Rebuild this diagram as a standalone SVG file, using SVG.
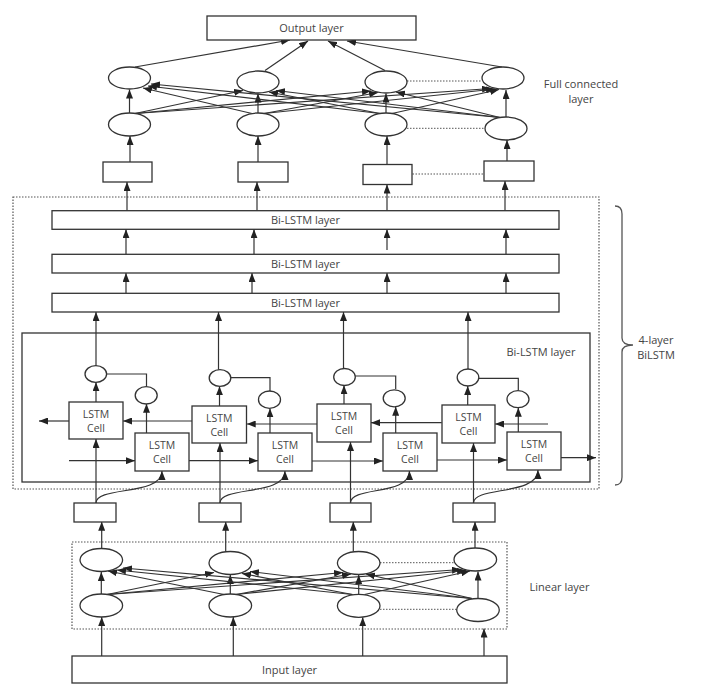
<svg xmlns="http://www.w3.org/2000/svg" width="710" height="699" viewBox="0 0 710 699">
<defs>
<marker id="ah" viewBox="0 0 9 7" refX="9" refY="3.5" markerWidth="9" markerHeight="7" markerUnits="userSpaceOnUse" orient="auto"><path d="M0,0 L9,3.5 L0,7 z" fill="#222"/></marker>
<style>
.box{fill:#fff;stroke:#333;stroke-width:1.3}
.frame{fill:none;stroke:#333;stroke-width:1.3}
.el{fill:#fff;stroke:#333;stroke-width:1.3}
.ln{fill:none;stroke:#333;stroke-width:1.2}
.ar{fill:none;stroke:#333;stroke-width:1.2;marker-end:url(#ah)}
.dot{fill:none;stroke:#555;stroke-width:1.2;stroke-dasharray:1.5 1.5}
.dl{fill:none;stroke:#555;stroke-width:1;stroke-dasharray:1.5 1.5}
text{font-family:"Open Sans","Noto Sans","DejaVu Sans",sans-serif;font-size:11px;fill:#444;text-anchor:middle}
.cell{font-size:10.5px}
</style>
</defs>
<rect width="710" height="699" fill="#fff"/>

<!-- frames -->
<g id="bilstm-frame"><rect class="dot" x="13" y="197" width="586" height="292"/></g>
<g id="linear-frame"><rect class="dot" x="72" y="542" width="435" height="87"/></g>
<g id="bilstm-4"><rect class="frame" x="22" y="333" width="568" height="149"/><text x="541" y="356">Bi-LSTM layer</text></g>

<!-- connectors -->
<g id="connectors">
 <!-- to output -->
 <line class="ar" x1="135" y1="67" x2="290" y2="40"/>
 <line class="ar" x1="265" y1="70.5" x2="308" y2="41"/>
 <line class="ar" x1="385" y1="70.5" x2="328" y2="41"/>
 <line class="ar" x1="502" y1="67" x2="347" y2="41"/>
 <!-- FC full connections -->
 <line class="ar" x1="129.5" y1="113" x2="129.5" y2="89.5"/>
 <line class="ar" x1="135" y1="113.5" x2="243" y2="90.5"/>
 <line class="ar" x1="135" y1="113.5" x2="371" y2="91"/>
 <line class="ar" x1="135" y1="113.5" x2="491" y2="88.5"/>
 <line class="ar" x1="252" y1="113.5" x2="143" y2="88"/>
 <line class="ar" x1="258" y1="113" x2="258" y2="93.5"/>
 <line class="ar" x1="264" y1="113.5" x2="378" y2="92.5"/>
 <line class="ar" x1="264" y1="113.5" x2="495" y2="89"/>
 <line class="ar" x1="380" y1="113.5" x2="148" y2="86"/>
 <line class="ar" x1="380" y1="113.5" x2="269" y2="92"/>
 <line class="ar" x1="386" y1="113" x2="386" y2="93.5"/>
 <line class="ar" x1="392" y1="113.5" x2="499" y2="89.5"/>
 <line class="ar" x1="500" y1="117.5" x2="151" y2="84"/>
 <line class="ar" x1="500" y1="117.5" x2="276" y2="90.5"/>
 <line class="ar" x1="500" y1="117.5" x2="396" y2="92"/>
 <line class="ar" x1="506" y1="117" x2="506" y2="90"/>
 <!-- rects to FC row2 -->
 <line class="ar" x1="130" y1="162" x2="130" y2="136"/>
 <line class="ar" x1="258" y1="162" x2="258" y2="136"/>
 <line class="ar" x1="387" y1="165" x2="387" y2="136"/>
 <line class="ar" x1="507" y1="161" x2="507" y2="140"/>
 <!-- Bi-LSTM layer1 to rects -->
 <line class="ar" x1="127" y1="210.7" x2="127" y2="182"/>
 <line class="ar" x1="257" y1="210.7" x2="257" y2="182"/>
 <line class="ar" x1="387" y1="210.7" x2="387" y2="184.5"/>
 <line class="ar" x1="505" y1="210.7" x2="505" y2="181"/>
 <!-- layer2 to layer1 -->
 <line class="ar" x1="126" y1="254.3" x2="126" y2="229.3"/>
 <line class="ar" x1="254" y1="254.3" x2="254" y2="229.3"/>
 <line class="ar" x1="387" y1="250" x2="387" y2="229.3"/>
 <line class="ar" x1="506" y1="254.3" x2="506" y2="229.3"/>
 <!-- layer3 to layer2 -->
 <line class="ar" x1="126" y1="293.3" x2="126" y2="273"/>
 <line class="ar" x1="252" y1="293.3" x2="252" y2="273"/>
 <line class="ar" x1="387" y1="293.3" x2="387" y2="273"/>
 <line class="ar" x1="506" y1="293.3" x2="506" y2="273"/>
 <!-- LSTM groups -->
 <line class="ar" x1="96" y1="365.7" x2="96" y2="312"/>
 <line class="ar" x1="96" y1="402" x2="96" y2="382.3"/>
 <path class="ln" d="M106.6,374 H146.5 V386.3"/>
 <line class="ar" x1="146.5" y1="433" x2="146.5" y2="403.7"/>
 <line class="ar" x1="96" y1="503" x2="96" y2="439"/>
 <path class="ar" d="M96,503 C96,486 162,496 162,471"/>

 <line class="ar" x1="218.5" y1="369.7" x2="218.5" y2="312"/>
 <line class="ar" x1="219.5" y1="406" x2="219.5" y2="386.3"/>
 <path class="ln" d="M230.8,377.7 H270 V391"/>
 <line class="ar" x1="270" y1="433" x2="270" y2="408.4"/>
 <line class="ar" x1="220" y1="503" x2="220" y2="443"/>
 <path class="ar" d="M220,503 C220,486 285,496 285,471"/>

 <line class="ar" x1="343.5" y1="368.7" x2="343.5" y2="312"/>
 <line class="ar" x1="344" y1="404" x2="344" y2="385.3"/>
 <path class="ln" d="M355.3,376 H395.7 V389.3"/>
 <line class="ar" x1="395.7" y1="433" x2="395.7" y2="406.7"/>
 <line class="ar" x1="350.5" y1="503" x2="350.5" y2="442"/>
 <path class="ar" d="M350.5,503 C350.5,486 409.5,496 409.5,471"/>

 <line class="ar" x1="468" y1="369" x2="468" y2="312"/>
 <line class="ar" x1="467.7" y1="405" x2="467.7" y2="386"/>
 <path class="ln" d="M478.8,378.3 H518.3 V390.3"/>
 <line class="ar" x1="518.3" y1="432" x2="518.3" y2="407.7"/>
 <line class="ar" x1="473.5" y1="503" x2="473.5" y2="443"/>
 <path class="ar" d="M473.5,503 C473.5,486 538,496 538,470"/>
 <!-- upper row leftward -->
 <line class="ar" x1="69" y1="421" x2="39" y2="421"/>
 <line class="ar" x1="192" y1="421" x2="123" y2="421"/>
 <line class="ar" x1="317" y1="424" x2="246.7" y2="424"/>
 <line class="ar" x1="441.7" y1="422.7" x2="371" y2="422.7"/>
 <line class="ar" x1="548" y1="424" x2="495" y2="424"/>
 <!-- lower row rightward -->
 <line class="ar" x1="69" y1="460.7" x2="135" y2="460.7"/>
 <line class="ar" x1="189" y1="460.7" x2="258" y2="460.7"/>
 <line class="ar" x1="312" y1="461" x2="383" y2="461"/>
 <line class="ar" x1="436.7" y1="460" x2="507" y2="460"/>
 <line class="ar" x1="561" y1="457.7" x2="596" y2="457.7"/>
 <!-- linear to rects -->
 <line class="ar" x1="101.7" y1="548.5" x2="101.7" y2="521.7"/>
 <line class="ar" x1="225.7" y1="551.5" x2="225.7" y2="521.7"/>
 <line class="ar" x1="353.3" y1="551.5" x2="353.3" y2="521.7"/>
 <line class="ar" x1="475" y1="548" x2="475" y2="521.7"/>
 <!-- linear full connections -->
 <line class="ar" x1="101.3" y1="594" x2="101.3" y2="572"/>
 <line class="ar" x1="107" y1="594.5" x2="214" y2="572.5"/>
 <line class="ar" x1="107" y1="594.5" x2="343" y2="572.5"/>
 <line class="ar" x1="107" y1="594.5" x2="461" y2="569.5"/>
 <line class="ar" x1="224" y1="594.5" x2="108" y2="571"/>
 <line class="ar" x1="230.3" y1="594" x2="230.3" y2="575"/>
 <line class="ar" x1="236" y1="594.5" x2="351" y2="574"/>
 <line class="ar" x1="236" y1="594.5" x2="466" y2="570.5"/>
 <line class="ar" x1="352.5" y1="594.5" x2="117" y2="570"/>
 <line class="ar" x1="352.5" y1="594.5" x2="242" y2="573.5"/>
 <line class="ar" x1="358.7" y1="594.3" x2="358.7" y2="575"/>
 <line class="ar" x1="364.5" y1="594.5" x2="470" y2="571"/>
 <line class="ar" x1="472" y1="598.5" x2="123" y2="568"/>
 <line class="ar" x1="472" y1="598.5" x2="250" y2="571.5"/>
 <line class="ar" x1="472" y1="598.5" x2="366" y2="574"/>
 <line class="ar" x1="478" y1="598.5" x2="478" y2="571.5"/>
 <!-- input arrows -->
 <line class="ar" x1="101.7" y1="656" x2="101.7" y2="617"/>
 <line class="ar" x1="233.3" y1="656" x2="233.3" y2="617"/>
 <line class="ar" x1="362.7" y1="656" x2="362.7" y2="617.3"/>
 <line class="ar" x1="484" y1="656" x2="484" y2="628.5"/>
 <!-- dotted ellipsis links -->
 <line class="dl" x1="407" y1="81" x2="482" y2="81"/>
 <line class="dl" x1="407" y1="128.3" x2="485" y2="128.3"/>
 <line class="dl" x1="412.5" y1="174" x2="484" y2="174"/>
 <line class="dl" x1="380" y1="562.7" x2="454" y2="562.7"/>
 <line class="dl" x1="380" y1="609.3" x2="456.7" y2="609.3"/>
</g>

<!-- nodes -->
<g id="output-layer"><rect class="box" x="207" y="16" width="209" height="24"/><text x="311.5" y="32">Output layer</text></g>
<g id="fc-top">
 <ellipse class="el" cx="129.5" cy="78" rx="21" ry="11"/>
 <ellipse class="el" cx="258" cy="82" rx="21" ry="11"/>
 <ellipse class="el" cx="386" cy="82" rx="21" ry="11"/>
 <ellipse class="el" cx="503" cy="78" rx="21" ry="11"/>
</g>
<g id="fc-bottom">
 <ellipse class="el" cx="129.5" cy="124.5" rx="21" ry="11.5"/>
 <ellipse class="el" cx="258" cy="124.5" rx="21" ry="11.5"/>
 <ellipse class="el" cx="386" cy="124.5" rx="21" ry="11.5"/>
 <ellipse class="el" cx="506" cy="128.5" rx="21" ry="11.5"/>
</g>
<g id="fc-label"><text x="581" y="88">Full connected<tspan x="581" dy="15">layer</tspan></text></g>
<g id="top-rects">
 <rect class="box" x="103" y="162" width="49" height="20"/>
 <rect class="box" x="238" y="162" width="50" height="20"/>
 <rect class="box" x="363" y="164.5" width="49" height="20"/>
 <rect class="box" x="484" y="161" width="50" height="20"/>
</g>
<g id="bilstm-1"><rect class="box" x="52" y="210.7" width="507" height="18.6"/><text x="305.5" y="224">Bi-LSTM layer</text></g>
<g id="bilstm-2"><rect class="box" x="52" y="254.3" width="507" height="18.7"/><text x="305.5" y="267.7">Bi-LSTM layer</text></g>
<g id="bilstm-3"><rect class="box" x="52" y="293.3" width="507" height="18.7"/><text x="305.5" y="306.7">Bi-LSTM layer</text></g>

<g id="lstm-cells">
 <rect class="box" x="69" y="402" width="54" height="37"/><text class="cell" x="96" y="417.5">LSTM<tspan x="96" dy="14.4">Cell</tspan></text>
 <rect class="box" x="135" y="433" width="54" height="38"/><text class="cell" x="162" y="449">LSTM<tspan x="162" dy="14.4">Cell</tspan></text>
 <rect class="box" x="192" y="406" width="54.5" height="37"/><text class="cell" x="219.3" y="421.5">LSTM<tspan x="219.3" dy="14.4">Cell</tspan></text>
 <rect class="box" x="258" y="433" width="54" height="38"/><text class="cell" x="285" y="449">LSTM<tspan x="285" dy="14.4">Cell</tspan></text>
 <rect class="box" x="317" y="404" width="54" height="38"/><text class="cell" x="344" y="420">LSTM<tspan x="344" dy="14.4">Cell</tspan></text>
 <rect class="box" x="383" y="433" width="54" height="38"/><text class="cell" x="410" y="449">LSTM<tspan x="410" dy="14.4">Cell</tspan></text>
 <rect class="box" x="442" y="405" width="53" height="38"/><text class="cell" x="468.5" y="421">LSTM<tspan x="468.5" dy="14.4">Cell</tspan></text>
 <rect class="box" x="507" y="432" width="54" height="38"/><text class="cell" x="534" y="448">LSTM<tspan x="534" dy="14.4">Cell</tspan></text>
</g>
<g id="lstm-gates">
 <ellipse class="el" cx="95.8" cy="374" rx="10.8" ry="8.3"/>
 <ellipse class="el" cx="146.2" cy="395.3" rx="11" ry="8.7"/>
 <ellipse class="el" cx="220" cy="378" rx="10.8" ry="8.3"/>
 <ellipse class="el" cx="269.5" cy="399.7" rx="11" ry="8.7"/>
 <ellipse class="el" cx="344.5" cy="377" rx="10.8" ry="8.5"/>
 <ellipse class="el" cx="394.2" cy="398.3" rx="11" ry="8.5"/>
 <ellipse class="el" cx="468" cy="377.5" rx="10.8" ry="8.5"/>
 <ellipse class="el" cx="518" cy="399.2" rx="11" ry="8.5"/>
</g>
<g id="brace"><path d="M615,206 Q622,206 622,214 L622,338 Q622,345 633,345 Q622,345 622,352 L622,477 Q622,485 615,485" fill="none" stroke="#555" stroke-width="1.3"/><text x="656" y="343.5">4-layer<tspan x="656" dy="15">BiLSTM</tspan></text></g>
<g id="mid-rects">
 <rect class="box" x="74" y="503" width="42" height="19"/>
 <rect class="box" x="199" y="503" width="42" height="19"/>
 <rect class="box" x="330" y="503" width="41" height="19"/>
 <rect class="box" x="453" y="503" width="42" height="19"/>
</g>
<g id="linear-top">
 <ellipse class="el" cx="101.3" cy="560" rx="21.3" ry="11.5"/>
 <ellipse class="el" cx="230.3" cy="563" rx="21.3" ry="11.5"/>
 <ellipse class="el" cx="358.7" cy="563" rx="21.3" ry="11.5"/>
 <ellipse class="el" cx="475.3" cy="559.5" rx="21.3" ry="11.5"/>
</g>
<g id="linear-bottom">
 <ellipse class="el" cx="101.3" cy="605.5" rx="21.3" ry="11.5"/>
 <ellipse class="el" cx="230.3" cy="605.5" rx="21.3" ry="11.5"/>
 <ellipse class="el" cx="358.7" cy="605.8" rx="21.3" ry="11.5"/>
 <ellipse class="el" cx="478" cy="610" rx="21.3" ry="11.5"/>
</g>
<g id="linear-label"><text x="559.5" y="591">Linear layer</text></g>
<g id="input-layer"><rect class="box" x="72" y="656" width="435" height="27"/><text x="289.5" y="674">Input layer</text></g>
</svg>
